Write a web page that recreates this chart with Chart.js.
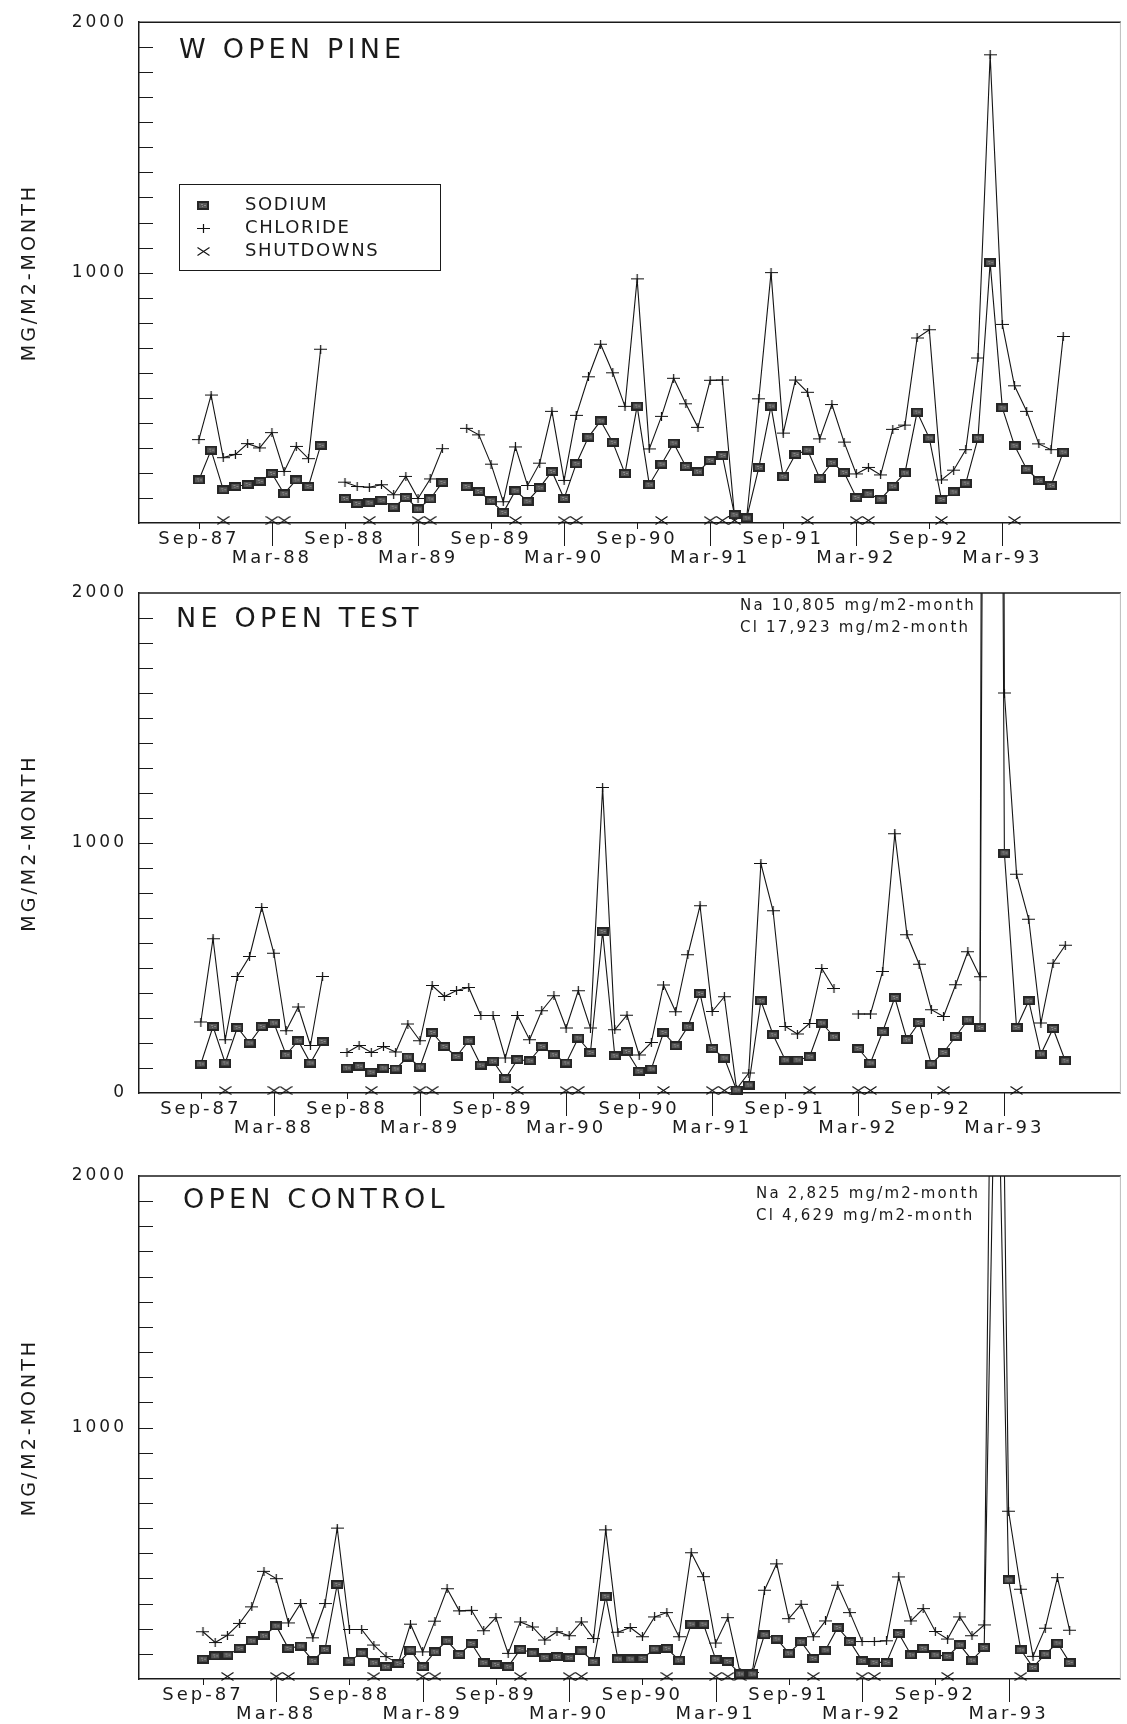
<!DOCTYPE html>
<html>
<head>
<meta charset="utf-8">
<title>Sodium and chloride deposition</title>
<script src="https://cdn.jsdelivr.net/npm/chart.js@4.4.1/dist/chart.umd.min.js"></script>
<style>
  html, body { margin: 0; padding: 0; background: #fff; }
  #page { position: relative; width: 1127px; height: 1724px; overflow: hidden; }
  canvas { position: absolute; left: 0; }
</style>
</head>
<body>
<div id="page">
  <canvas id="pine" width="1127" height="570" style="top:0px"></canvas>
  <canvas id="test" width="1127" height="570" style="top:570px"></canvas>
  <canvas id="control" width="1127" height="584" style="top:1140px"></canvas>
</div>
<script>
// month index: 0 = Sep-87 ... 71 = Aug-93
const tickMonths = [0, 6, 12, 18, 24, 30, 36, 42, 48, 54, 60, 66];
const tickLabels = ['Sep-87', 'Mar-88', 'Sep-88', 'Mar-89', 'Sep-89', 'Mar-90',
                    'Sep-90', 'Mar-91', 'Sep-91', 'Mar-92', 'Sep-92', 'Mar-93'];

// months with sampler shutdowns
const shutdownMonths = [2, 6, 7, 14, 18, 19, 26, 30, 31, 38, 42, 43, 44, 50, 54, 55, 61, 67];
const SHUTDOWN_LEVEL = 10;

// W OPEN PINE, mg/m2-month
const pineSodium = [
  172, 291, 133, 146, 154, 166, 198, 117, 172, 146, 310,
  null,
  98, 78, 81, 91, 63, 102, 56, 96, 162,
  null,
  146, 126, 89, 42, 129, 87, 141, 206, 98, 237, 343, 408, 322,
  198, 467, 153, 235, 319, 226, 205, 250, 270, 33, 20,
  222, 467, 185, 274, 291, 179, 241, 202, 102, 117, 95,
  147, 200, 443, 339, 94, 124, 159, 339, 1040, 460, 309, 215, 170, 150, 283
];
const pineChloride = [
  333, 511, 261, 274, 317, 300, 361, 206, 306, 257, 694,
  null,
  163, 146, 143, 153, 113, 186, 98, 176, 297,
  null,
  378, 352, 235, 85, 304, 150, 239, 446, 170, 430, 584, 714, 600,
  466, 975, 296, 426, 578, 476, 382, 570, 571, 26, 23,
  496, 1000, 359, 571, 522, 336, 473, 323, 196, 222, 192,
  374, 391, 739, 772, 172, 211, 293, 659, 1870, 793, 548, 446, 316, 293, 745
];

// NE OPEN TEST
const testSodium = [
  116, 266, 120, 262, 200, 266, 280, 153, 209, 120, 206,
  null,
  100, 107, 83, 100, 96, 144, 104, 242, 186, 146, 209,
  111, 127, 57, 133, 129, 186, 153, 120, 220, 162, 646,
  149, 166, 87, 96, 242, 189, 265, 398, 178, 140, 12,
  32, 369, 233, 132, 132, 145, 280, 225,
  null,
  178, 120, 245, 382, 213, 282, 116, 162, 226, 292, 262,
  10805, 960, 262, 369, 156, 258, 129
];
const testChloride = [
  284, 617, 213, 466, 546, 742, 559, 249, 344, 190, 466,
  null,
  162, 190, 162, 186, 164, 276, 209, 430, 386, 410, 422,
  310, 310, 140, 310, 213, 329, 389, 260, 409, 260, 1222,
  253, 311, 152, 202, 432, 325, 553, 749, 326, 385, 16,
  80, 918, 729, 266, 236, 278, 498, 418,
  null,
  316, 316, 486, 1037, 633, 515, 333, 306, 433, 565, 465,
  17923, 1600, 875, 695, 280, 519, 591
];

// OPEN CONTROL
const controlSodium = [
  79, 92, 95, 122, 152, 172, 211, 122, 131, 73, 118, 376,
  71, 104, 65, 49, 62, 115, 49, 108, 152, 98, 141, 65,
  58, 49, 118, 104, 86, 89, 85, 112, 69, 329, 80, 80,
  82, 119, 122, 75, 218, 218, 79, 70, 20, 20, 176, 159,
  103, 148, 82, 115, 205, 149, 73, 66, 66, 181, 96, 122,
  96, 90, 136, 75, 125, 2825, 394, 116, 46, 99, 143, 66
];
const controlChloride = [
  188, 145, 174, 221, 287, 428, 399, 223, 300, 164, 300, 600,
  197, 197, 135, 89, 62, 218, 108, 230, 359, 271, 273, 192,
  244, 102, 227, 207, 155, 188, 172, 227, 161, 593, 186, 205,
  168, 247, 264, 168, 502, 407, 143, 244, 26, 26, 353, 458,
  240, 297, 168, 231, 373, 264, 149, 149, 152, 406, 231, 280,
  189, 159, 247, 172, 215, 4629, 667, 357, 90, 202, 403, 194
];

const SPIKE_MONTH = 65;

const FONT = 'DejaVu Sans';
const INK = '#1a1a1a';

function makeMark(w, h, paint) {
  const c = document.createElement('canvas');
  c.width = w;
  c.height = h;
  paint(c.getContext('2d'), w, h);
  return c;
}

const sodiumMark = makeMark(12, 9, (g, w, h) => {
  g.fillStyle = '#262626';
  g.fillRect(0, 0, w, h);
  g.fillStyle = '#585858';
  g.fillRect(2, 2, w - 4, h - 4);
  g.fillStyle = '#8a8a8a';
  g.fillRect(4, 3, 2, 1);
  g.fillRect(7, 4, 2, 1);
  g.fillRect(5, 5, 1, 1);
});

const plusMark = makeMark(13, 9, (g, w, h) => {
  g.strokeStyle = '#111';
  g.lineWidth = 1.2;
  g.beginPath();
  g.moveTo(0, 4.5); g.lineTo(w, 4.5);
  g.moveTo(6.5, 0); g.lineTo(6.5, h);
  g.stroke();
});

const crossMark = makeMark(13, 9, (g, w, h) => {
  g.strokeStyle = '#111';
  g.lineWidth = 1.1;
  g.beginPath();
  g.moveTo(0.5, 0.5); g.lineTo(w - 0.5, h - 0.5);
  g.moveTo(0.5, h - 0.5); g.lineTo(w - 0.5, 0.5);
  g.stroke();
});

function series(values) {
  return values.map((v, m) => ({ x: m, y: v }));
}

function fmt(n) {
  return n.toLocaleString('en-US');
}

// frame, minor ticks, panel title, legend and notes
const panelDecor = {
  id: 'panelDecor',
  beforeDraw(chart) {
    chart.ctx.letterSpacing = '3px';
  },
  afterDraw(chart, args, opts) {
    const { ctx, chartArea: a, scales: { x, y } } = chart;
    ctx.save();
    ctx.letterSpacing = '0px';
    ctx.strokeStyle = INK;

    ctx.lineWidth = 1.5;
    ctx.beginPath();
    ctx.moveTo(a.left, a.top);
    ctx.lineTo(a.right, a.top);
    ctx.stroke();

    ctx.strokeStyle = '#bbb';
    ctx.lineWidth = 1;
    ctx.beginPath();
    ctx.moveTo(a.right - 0.5, a.top);
    ctx.lineTo(a.right - 0.5, a.bottom);
    ctx.stroke();

    ctx.strokeStyle = INK;
    ctx.lineWidth = 1;
    ctx.beginPath();
    for (let v = 100; v < 2000; v += 100) {
      const py = Math.round(y.getPixelForValue(v)) + 0.5;
      ctx.moveTo(a.left, py);
      ctx.lineTo(a.left + 14, py);
    }
    tickMonths.forEach((m, i) => {
      const px = Math.round(x.getPixelForValue(m)) + 0.5;
      ctx.moveTo(px, a.bottom);
      ctx.lineTo(px, a.bottom + (i % 2 ? 23 : 6));
    });
    ctx.stroke();

    ctx.fillStyle = INK;
    ctx.textBaseline = 'middle';
    ctx.textAlign = 'left';
    ctx.font = `27px "${FONT}"`;
    ctx.letterSpacing = '4.2px';
    ctx.fillText(opts.title, opts.titleX, opts.titleY);

    if (opts.legend) {
      const box = opts.legend;
      ctx.lineWidth = 1;
      ctx.strokeRect(box.left + 0.5, box.top + 0.5, box.width, box.height);
      const rows = [
        [sodiumMark, 'SODIUM'],
        [plusMark, 'CHLORIDE'],
        [crossMark, 'SHUTDOWNS']
      ];
      ctx.font = `18px "${FONT}"`;
      ctx.letterSpacing = '1.6px';
      rows.forEach(([mark, label], i) => {
        const cy = box.top + 21 + i * 23;
        ctx.drawImage(mark, Math.round(box.left + 24 - mark.width / 2), Math.round(cy - mark.height / 2));
        ctx.fillText(label, box.left + 66, cy);
      });
    }

    if (opts.note) {
      ctx.font = `15px "${FONT}"`;
      ctx.letterSpacing = '2.2px';
      ctx.fillText(`Na ${fmt(opts.note.na)} mg/m2-month`, opts.note.x, opts.note.y);
      ctx.fillText(`Cl ${fmt(opts.note.cl)} mg/m2-month`, opts.note.x, opts.note.y + 22);
    }
    ctx.restore();
  }
};

const panels = [
  {
    id: 'pine', title: 'W OPEN PINE', sodium: pineSodium, chloride: pineChloride,
    padTop: 20, axisHeight: 47, xMin: -4.92, xMax: 75.74, showZero: false,
    titleX: 179, titleY: 51,
    legend: { left: 179, top: 184, width: 261, height: 86 },
    note: null
  },
  {
    id: 'test', title: 'NE OPEN TEST', sodium: testSodium, chloride: testChloride,
    padTop: 23, axisHeight: 47, xMin: -5.08, xMax: 75.57, showZero: true,
    titleX: 176, titleY: 50,
    legend: null,
    note: { x: 740, y: 36, na: testSodium[SPIKE_MONTH], cl: testChloride[SPIKE_MONTH] }
  },
  {
    id: 'control', title: 'OPEN CONTROL', sodium: controlSodium, chloride: controlChloride,
    padTop: 36, axisHeight: 45, xMin: -5.24, xMax: 75.2, showZero: false,
    titleX: 183, titleY: 61,
    legend: null,
    note: { x: 756, y: 54, na: controlSodium[SPIKE_MONTH], cl: controlChloride[SPIKE_MONTH] }
  }
];

const lineClip = { left: 10, right: 10, top: 0, bottom: 10 };

panels.forEach((p) => {
  new Chart(document.getElementById(p.id), {
    type: 'line',
    data: {
      datasets: [
        {
          label: 'SODIUM',
          data: series(p.sodium),
          borderColor: '#151515',
          borderWidth: 1.1,
          pointStyle: sodiumMark,
          pointRadius: 5,
          fill: false,
          tension: 0,
          spanGaps: false,
          clip: lineClip
        },
        {
          label: 'CHLORIDE',
          data: series(p.chloride),
          borderColor: '#151515',
          borderWidth: 1.1,
          pointStyle: plusMark,
          pointRadius: 5,
          fill: false,
          tension: 0,
          spanGaps: false,
          clip: lineClip
        },
        {
          label: 'SHUTDOWNS',
          data: shutdownMonths.map(m => ({ x: m, y: SHUTDOWN_LEVEL })),
          showLine: false,
          pointStyle: crossMark,
          pointRadius: 5,
          clip: false
        }
      ]
    },
    options: {
      responsive: false,
      animation: false,
      devicePixelRatio: 1,
      layout: { padding: { top: p.padTop, right: 4, bottom: 0, left: 0 } },
      plugins: {
        legend: { display: false },
        tooltip: { enabled: false },
        panelDecor: p
      },
      scales: {
        x: {
          type: 'linear',
          min: p.xMin,
          max: p.xMax,
          afterBuildTicks: (s) => { s.ticks = tickMonths.map(v => ({ value: v })); },
          afterFit: (s) => { s.height = p.axisHeight; },
          grid: { display: true, drawOnChartArea: false, drawTicks: false },
          border: { display: true, color: INK, width: 1.5 },
          ticks: {
            autoSkip: false,
            maxRotation: 0,
            minRotation: 0,
            padding: 6,
            color: INK,
            font: { family: FONT, size: 18, lineHeight: 1.1 },
            callback: (v) => {
              const i = tickMonths.indexOf(v);
              if (i < 0) return '';
              return i % 2 ? ['', tickLabels[i]] : tickLabels[i];
            }
          }
        },
        y: {
          min: 0,
          max: 2000,
          afterFit: (s) => { s.width = 139; },
          grid: { display: true, drawOnChartArea: false, drawTicks: false },
          border: { display: true, color: INK, width: 1.5 },
          title: {
            display: true,
            text: 'MG/M2-MONTH',
            color: INK,
            padding: { top: 19, bottom: 0 },
            font: { family: FONT, size: 19 }
          },
          ticks: {
            stepSize: 100,
            autoSkip: false,
            padding: 12,
            color: INK,
            font: { family: FONT, size: 17 },
            callback: (v) => (v % 1000 === 0 && (v > 0 || p.showZero)) ? String(v) : ''
          }
        }
      }
    },
    plugins: [panelDecor]
  });
});
</script>
</body>
</html>
